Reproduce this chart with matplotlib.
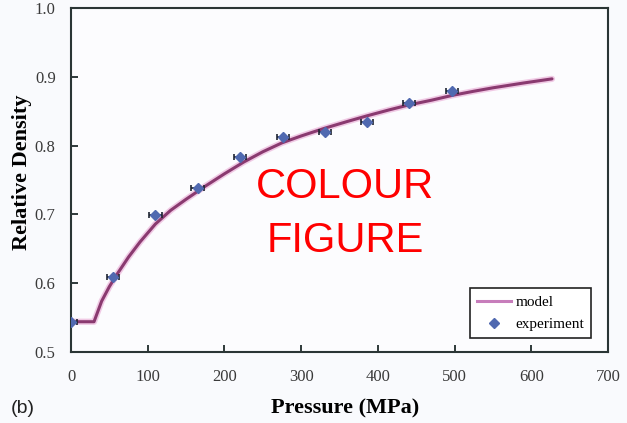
import matplotlib
matplotlib.use("Agg")
import matplotlib.pyplot as plt
from matplotlib.lines import Line2D

# Experimental data
exp_pressure = [0, 55, 110, 165, 220, 276, 331, 386, 441, 497]
exp_density = [0.544, 0.609, 0.699, 0.738, 0.783, 0.812, 0.820, 0.834, 0.862, 0.879]
exp_xerr = [8, 8, 8, 8, 8, 8, 8, 8, 8, 8]

# Model curve
model_pressure = [0, 30, 40, 50, 60, 75, 90, 110, 130, 150, 175, 200, 225, 250, 275,
                  300, 330, 360, 385, 415, 440, 470, 497, 525, 550, 590, 627]
model_density = [0.544, 0.544, 0.574, 0.595, 0.613, 0.638, 0.660, 0.686, 0.706, 0.722,
                 0.741, 0.759, 0.776, 0.791, 0.804, 0.814, 0.825, 0.835, 0.843, 0.852,
                 0.859, 0.866, 0.873, 0.879, 0.884, 0.891, 0.897]

xticks = [0, 100, 200, 300, 400, 500, 600, 700]
yticks = [0.5, 0.6, 0.7, 0.8, 0.9, 1.0]

serif = ["Liberation Serif", "DejaVu Serif"]
sans = ["Liberation Sans", "DejaVu Sans"]

W, H = 627, 423
fig = plt.figure(figsize=(W / 100, H / 100), dpi=100, facecolor="#f9fafd")
ax = fig.add_axes([71 / W, 1 - 352 / H, (608 - 71) / W, (352 - 8) / H])
ax.set_facecolor("#fcfcfe")

ax.plot(model_pressure, model_density, color="#e8a8d4", lw=4.5, alpha=0.6, zorder=2,
        solid_capstyle="round", solid_joinstyle="round")
ax.plot(model_pressure, model_density, color="#8a3a70", lw=2.2, zorder=3,
        solid_capstyle="round", solid_joinstyle="round")
ax.errorbar(exp_pressure, exp_density, xerr=exp_xerr, fmt="D", color="#5069b0",
            ms=5.5, ecolor="#1e2533", elinewidth=1.2, capsize=2.5, capthick=1.2,
            zorder=4)

ax.set_xlim(0, 700)
ax.set_ylim(0.5, 1.0)
ax.set_xticks(xticks)
ax.set_yticks(yticks)
ax.set_xticklabels([str(t) for t in xticks], family=serif, fontsize=12, color="#3a3a3a")
ax.set_yticklabels(["%.1f" % t for t in yticks], family=serif, fontsize=12, color="#3a3a3a")
ax.tick_params(axis="x", direction="in", length=5, width=1.3, color="#1e2a2a", pad=12, top=False)
ax.tick_params(axis="y", direction="in", length=5, width=1.3, color="#1e2a2a", pad=11, right=False)

for s in ax.spines.values():
    s.set_linewidth(1.5)
    s.set_color("#2a3535")

ax.set_xlabel("Pressure (MPa)", family=serif, fontsize=16, fontweight="bold")
ax.set_ylabel("Relative Density", family=serif, fontsize=16, fontweight="bold")
ax.xaxis.set_label_coords((345 - 71) / 537, -(408 - 352) / 344)
ax.yaxis.set_label_coords(-(71 - 22) / 537, (352 - 172) / 344)
ax.xaxis.label.set_va("center")
ax.yaxis.label.set_va("center")

h1 = Line2D([], [], color="#c77dbb", lw=2.2)
h2 = Line2D([], [], marker="D", ls="none", color="#5069b0", ms=5)
leg = ax.legend([h1, h2], ["model", "experiment"], loc="lower right",
                bbox_to_anchor=(1 - 17 / 537, 14 / 344), borderaxespad=0,
                prop={"family": serif, "size": 11},
                fancybox=False, framealpha=1, edgecolor="#222222",
                handlelength=2.2, handletextpad=0.3, borderpad=0.45, labelspacing=0.55)
leg.get_frame().set_linewidth(1.2)

fig.text(345 / W, 1 - 187 / H, "COLOUR", color="#ff0000", fontsize=30,
         family=sans, ha="center", va="center")
fig.text(345 / W, 1 - 241 / H, "FIGURE", color="#ff0000", fontsize=30,
         family=sans, ha="center", va="center")
fig.text(11 / W, 1 - 408 / H, "(b)", color="#222222", fontsize=14,
         family=sans, ha="left", va="center")

fig.savefig("out.png", dpi=100, facecolor=fig.get_facecolor())
